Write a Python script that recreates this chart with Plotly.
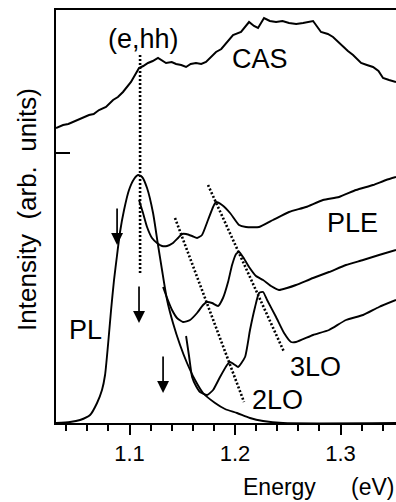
import plotly.graph_objects as go

# ---- data (energy in eV, intensity in arb. units) ----
cas_energy = [1.0303, 1.0370, 1.0420, 1.0464, 1.0510, 1.0559, 1.0616, 1.0660, 1.0711, 1.0777,
              1.0810, 1.0844, 1.0890, 1.0938, 1.1014, 1.1090, 1.1130, 1.1175, 1.1220, 1.1270,
              1.1346, 1.1400, 1.1441, 1.1490, 1.1536, 1.1580, 1.1630, 1.1680, 1.1725, 1.1820,
              1.1870, 1.1915, 1.1981, 1.2057, 1.2133, 1.2180, 1.2218, 1.2275, 1.2330, 1.2389,
              1.2450, 1.2512, 1.2580, 1.2645, 1.2700, 1.2740, 1.2815, 1.2880, 1.2929, 1.2980,
              1.3024, 1.3070, 1.3119, 1.3195, 1.3250, 1.3308, 1.3360, 1.3403, 1.3460, 1.3526]
cas_int = [2.95, 2.98, 2.99, 3.01, 3.03, 3.05, 3.08, 3.09, 3.13, 3.16,
           3.19, 3.23, 3.26, 3.31, 3.41, 3.55, 3.57, 3.60, 3.62, 3.65,
           3.60, 3.61, 3.59, 3.58, 3.56, 3.59, 3.60, 3.59, 3.61, 3.71,
           3.74, 3.80, 3.88, 3.91, 4.01, 3.97, 3.95, 4.05, 4.02, 4.01,
           4.02, 4.00, 3.99, 4.00, 4.01, 4.02, 3.91, 3.89, 3.86, 3.81,
           3.76, 3.72, 3.68, 3.60, 3.58, 3.56, 3.52, 3.45, 3.43, 3.41]

pl_energy = [1.0303, 1.0436, 1.0531, 1.0626, 1.0692, 1.0739, 1.0768, 1.0796, 1.0825, 1.0853,
             1.0882, 1.0910, 1.0948, 1.0995, 1.1043, 1.1081, 1.1119, 1.1166, 1.1223, 1.1270,
             1.1308, 1.1356, 1.1412, 1.1479, 1.1545, 1.1621, 1.1697, 1.1811, 1.1905, 1.2019,
             1.2142, 1.2266, 1.2455, 1.3526]
pl_int = [0.00, 0.01, 0.03, 0.08, 0.20, 0.33, 0.48, 0.78, 1.13, 1.43,
          1.68, 1.91, 2.13, 2.33, 2.44, 2.48, 2.46, 2.35, 2.10, 1.78,
          1.53, 1.23, 1.00, 0.78, 0.60, 0.43, 0.30, 0.20, 0.14, 0.10,
          0.05, 0.02, 0.00, 0.00]

ple1_energy = [1.1090, 1.1128, 1.1166, 1.1213, 1.1261, 1.1308, 1.1356, 1.1412, 1.1460, 1.1498,
               1.1536, 1.1593, 1.1640, 1.1687, 1.1744, 1.1792, 1.1820, 1.1877, 1.1953, 1.2038,
               1.2104, 1.2228, 1.2360, 1.2512, 1.2673, 1.2834, 1.2986, 1.3147, 1.3308, 1.3432,
               1.3526]
ple1_int = [2.23, 2.10, 1.96, 1.85, 1.80, 1.77, 1.77, 1.80, 1.85, 1.89,
            1.89, 1.87, 1.85, 1.88, 2.03, 2.16, 2.21, 2.18, 2.10, 1.98,
            1.96, 1.96, 2.03, 2.11, 2.16, 2.23, 2.26, 2.33, 2.38, 2.43,
            2.46]

ple2_energy = [1.1318, 1.1356, 1.1403, 1.1450, 1.1507, 1.1574, 1.1640, 1.1697, 1.1735, 1.1782,
               1.1839, 1.1886, 1.1934, 1.1972, 1.2010, 1.2038, 1.2076, 1.2133, 1.2199, 1.2266,
               1.2341, 1.2417, 1.2493, 1.2578, 1.2740, 1.2891, 1.3052, 1.3214, 1.3365, 1.3526]
ple2_int = [1.36, 1.25, 1.13, 1.05, 1.01, 1.03, 1.10, 1.18, 1.21, 1.20,
            1.17, 1.25, 1.41, 1.58, 1.69, 1.71, 1.66, 1.56, 1.47, 1.43,
            1.37, 1.33, 1.35, 1.38, 1.45, 1.51, 1.58, 1.63, 1.68, 1.73]

ple3_energy = [1.1536, 1.1564, 1.1593, 1.1630, 1.1668, 1.1735, 1.1792, 1.1858, 1.1924, 1.1953,
               1.2000, 1.2029, 1.2095, 1.2142, 1.2190, 1.2228, 1.2266, 1.2304, 1.2389, 1.2465,
               1.2531, 1.2578, 1.2740, 1.2891, 1.3052, 1.3214, 1.3365, 1.3526]
ple3_int = [0.87, 0.67, 0.46, 0.37, 0.31, 0.28, 0.33, 0.46, 0.58, 0.61,
            0.58, 0.56, 0.66, 0.93, 1.16, 1.30, 1.31, 1.23, 1.06, 0.90,
            0.81, 0.81, 0.88, 0.93, 1.03, 1.08, 1.16, 1.23]

# guide lines (dotted)
ehh_energy = [1.1100, 1.1100]
ehh_int = [3.68, 1.48]
lo2_energy = [1.1431, 1.2085]
lo2_int = [2.05, 0.21]
lo3_energy = [1.1744, 1.2465]
lo3_int = [2.38, 0.71]

# detection-energy arrows
arrow_energy = [1.0882, 1.1090, 1.1318]
arrow_top = [2.16, 1.38, 0.68]
arrow_tip = [1.78, 1.00, 0.30]

# text labels
label_text = ["(e,hh)", "CAS", "PLE", "PL", "3LO", "2LO"]
label_energy = [1.1128, 1.2237, 1.3109, 1.0578, 1.2759, 1.2398]
label_int = [3.84, 3.64, 2.00, 0.93, 0.56, 0.23]

cas_zero = 2.70
x_ticks = [1.1, 1.2, 1.3]
x_tick_text = ["1.1", "1.2", "1.3"]

FONT = "Liberation Sans, Arial, Helvetica, sans-serif"

fig = go.Figure()
fig.add_trace(go.Scatter(x=cas_energy, y=cas_int, mode="lines",
                         line=dict(color="black", width=2)))
fig.add_trace(go.Scatter(x=pl_energy, y=pl_int, mode="lines",
                         line=dict(color="black", width=1.9, shape="spline", smoothing=0.6)))
for e, i in [(ple1_energy, ple1_int), (ple2_energy, ple2_int), (ple3_energy, ple3_int)]:
    fig.add_trace(go.Scatter(x=e, y=i, mode="lines",
                             line=dict(color="black", width=1.9, shape="spline", smoothing=0.5)))
dotted = dict(color="black", width=2.6, dash="2px,2px")
for e, i in [(ehh_energy, ehh_int), (lo2_energy, lo2_int), (lo3_energy, lo3_int)]:
    fig.add_trace(go.Scatter(x=e, y=i, mode="lines", line=dotted))

annotations = []
for e, t, b in zip(arrow_energy, arrow_top, arrow_tip):
    annotations.append(dict(x=e, y=b, ax=e, ay=t, xref="x", yref="y", axref="x", ayref="y",
                            text="", showarrow=True, arrowhead=2, arrowsize=1.4,
                            arrowwidth=1.7, arrowcolor="black", standoff=0))
for txt, e, v in zip(label_text, label_energy, label_int):
    annotations.append(dict(x=e, y=v, xref="x", yref="y", text=txt, showarrow=False,
                            xanchor="center", yanchor="middle",
                            font=dict(family=FONT, size=27, color="black")))
annotations.append(dict(x=0, y=0.516, xref="paper", yref="paper", xshift=-29,
                        text="Intensity\u00a0\u00a0(arb.\u00a0\u00a0units)", textangle=-90,
                        showarrow=False, xanchor="center", yanchor="middle",
                        font=dict(family=FONT, size=26, color="black")))
annotations.append(dict(x=1.2422, y=-0.155, xref="x", yref="paper", text="Energy",
                        showarrow=False, xanchor="center", yanchor="middle",
                        font=dict(family=FONT, size=23, color="black")))
annotations.append(dict(x=1.3299, y=-0.155, xref="x", yref="paper", text="(eV)",
                        showarrow=False, xanchor="center", yanchor="middle",
                        font=dict(family=FONT, size=23, color="black")))

fig.update_layout(
    width=396, height=502,
    margin=dict(l=56, r=0, t=10, b=79),
    paper_bgcolor="white", plot_bgcolor="white",
    showlegend=False,
    annotations=annotations,
    xaxis=dict(range=[1.0303, 1.3526], tickvals=x_ticks, ticktext=x_tick_text,
               ticks="outside", ticklen=10, tickwidth=2, tickcolor="black",
               showline=True, linewidth=2, linecolor="black", mirror=True,
               showgrid=False, zeroline=False, ticklabelstandoff=0,
               tickfont=dict(family=FONT, size=22, color="black"),
               minor=dict(dtick=0.02, tick0=1.0, ticks="outside", ticklen=6,
                          tickwidth=1.5, tickcolor="black", showgrid=False)),
    yaxis=dict(range=[0, 4.13], tickvals=[cas_zero], ticks="inside", ticklen=14,
               tickwidth=2, tickcolor="black", showticklabels=False,
               showline=True, linewidth=2, linecolor="black", mirror=False,
               showgrid=False, zeroline=False),
)
fig.update_traces(hoverinfo="skip")
fig.write_html("out.html")
